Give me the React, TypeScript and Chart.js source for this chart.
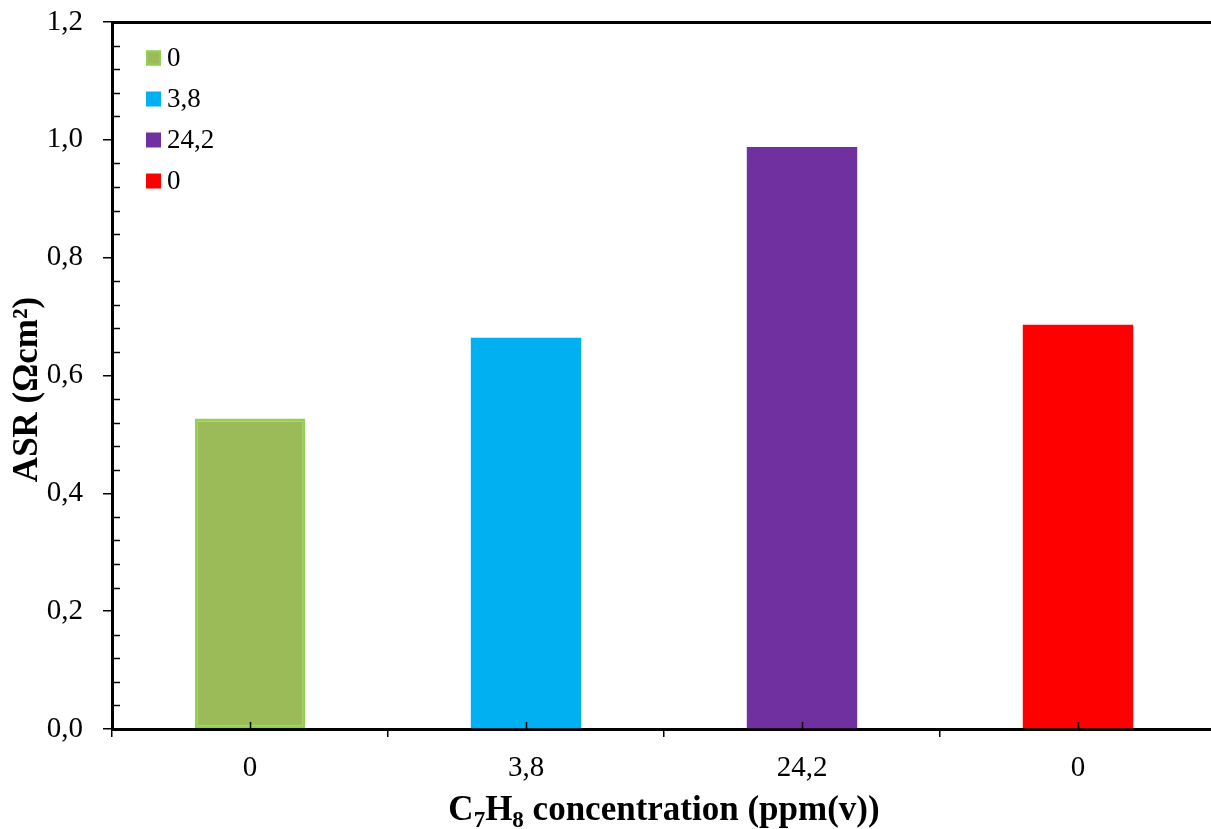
import React, { useEffect, useRef } from 'react';
import { Chart, registerables } from 'chart.js';

Chart.register(...registerables);

const categories = ['0', '3,8', '24,2', '0'];
const seriesLabels = ['0', '3,8', '24,2', '0'];
const asrValues = [0.527, 0.664, 0.988, 0.686];
const barColors = ['#9BBB59', '#00B0F0', '#7030A0', '#FF0000'];
const barBorderColors = ['#92D050', '#00B0F0', '#7030A0', '#FF0000'];
const barBorderWidths = [3, 0, 0, 0];
const yMin = 0;
const yMax = 1.2;
const yMajorStep = 0.2;
const yMinorStep = 0.04;
const yTitle = 'ASR (Ωcm²)';
const xTitleParts: [string, boolean][] = [
  ['C', false],
  ['7', true],
  ['H', false],
  ['8', true],
  [' concentration (ppm(v))', false],
];

const FONT = "'Liberation Serif', 'Times New Roman', serif";

const decorations = {
  id: 'decorations',
  afterDraw(chart: any) {
    const { ctx, chartArea, scales } = chart;
    const y = scales.y;
    const x = scales.x;
    ctx.save();
    ctx.strokeStyle = '#000';
    ctx.lineWidth = 1.5;
    // minor y ticks (inward)
    const nMinor = Math.round((yMax - yMin) / yMinorStep);
    const perMajor = Math.round(yMajorStep / yMinorStep);
    for (let k = 0; k <= nMinor; k++) {
      if (k % perMajor === 0) continue;
      const py = Math.round(y.getPixelForValue(yMin + k * yMinorStep)) + 0.5;
      ctx.beginPath();
      ctx.moveTo(chartArea.left, py);
      ctx.lineTo(chartArea.left + 8, py);
      ctx.stroke();
    }
    // inward ticks at category centers
    for (let i = 0; i < categories.length; i++) {
      const px = Math.round(x.getPixelForValue(i)) + 0.5;
      ctx.beginPath();
      ctx.moveTo(px, chartArea.bottom);
      ctx.lineTo(px, chartArea.bottom - 7);
      ctx.stroke();
    }
    // legend inside plot
    ctx.font = `27px ${FONT}`;
    ctx.textBaseline = 'middle';
    ctx.textAlign = 'left';
    chart.data.datasets.forEach((ds: any, i: number) => {
      const bx = chartArea.left + 34;
      const cy = chartArea.top + 36 + i * 41;
      ctx.fillStyle = ds.backgroundColor;
      ctx.fillRect(bx, cy - 7.5, 15, 15);
      if (ds.borderWidth) {
        ctx.strokeStyle = ds.borderColor;
        ctx.lineWidth = 2;
        ctx.strokeRect(bx + 1, cy - 6.5, 13, 13);
      }
      ctx.fillStyle = '#000';
      ctx.fillText(ds.label, bx + 21, cy + 1);
    });
    // y title
    ctx.save();
    ctx.translate(28, (chartArea.top + chartArea.bottom) / 2 + 14);
    ctx.rotate(-Math.PI / 2);
    ctx.font = `bold 35px ${FONT}`;
    ctx.textAlign = 'center';
    ctx.textBaseline = 'middle';
    ctx.fillStyle = '#000';
    ctx.fillText(yTitle, 0, 0);
    ctx.restore();
    // x title with subscripts
    const mainFont = `bold 35px ${FONT}`;
    const subFont = `bold 23px ${FONT}`;
    let total = 0;
    xTitleParts.forEach(([t, sub]) => {
      ctx.font = sub ? subFont : mainFont;
      total += ctx.measureText(t).width;
    });
    let cx = (chartArea.left + chartArea.right) / 2 - total / 2;
    const baseY = 820;
    ctx.textAlign = 'left';
    ctx.textBaseline = 'alphabetic';
    ctx.fillStyle = '#000';
    xTitleParts.forEach(([t, sub]) => {
      ctx.font = sub ? subFont : mainFont;
      ctx.fillText(t, cx, sub ? baseY + 7 : baseY);
      cx += ctx.measureText(t).width;
    });
    ctx.restore();
  },
};

export default function App() {
  const canvasRef = useRef<HTMLCanvasElement | null>(null);

  useEffect(() => {
    const canvas = canvasRef.current;
    if (!canvas) return;
    const datasets = seriesLabels.map((label, i) => ({
      label,
      data: categories.map((_, j) => (j === i ? asrValues[i] : null)),
      backgroundColor: barColors[i],
      borderColor: barBorderColors[i],
      borderWidth: barBorderWidths[i],
      borderSkipped: false as any,
      barPercentage: 0.4,
      categoryPercentage: 1,
    }));
    const chart = new Chart(canvas, {
      type: 'bar',
      data: { labels: categories, datasets },
      plugins: [decorations],
      options: {
        responsive: false,
        animation: false,
        devicePixelRatio: 1,
        layout: { padding: { left: 0, right: 9, top: 0, bottom: 0 } },
        datasets: { bar: { grouped: false } } as any,
        plugins: {
          legend: { display: false },
          tooltip: { enabled: false },
        },
        scales: {
          x: {
            type: 'category',
            position: 'bottom',
            offset: true,
            grid: {
              offset: true,
              drawOnChartArea: false,
              tickLength: 8,
              color: '#000',
              lineWidth: 1.5,
            },
            border: { display: true, color: '#000', width: 3 },
            ticks: {
              font: { family: FONT, size: 29 },
              color: '#000',
              padding: 14,
              maxRotation: 0,
              autoSkip: false,
            },
            afterFit(s: any) {
              s.height = 100;
              s.paddingLeft = 0;
              s.paddingRight = 0;
            },
          },
          xTop: {
            type: 'category',
            position: 'top',
            grid: { display: false },
            ticks: { display: false },
            border: { display: true, color: '#000', width: 3 },
            afterFit(s: any) {
              s.height = 22;
              s.paddingLeft = 0;
              s.paddingRight = 0;
            },
          },
          y: {
            min: yMin,
            max: yMax,
            ticks: {
              stepSize: yMajorStep,
              font: { family: FONT, size: 29 },
              color: '#000',
              padding: 20,
              callback: (v: any) => Number(v).toFixed(1).replace('.', ','),
            },
            grid: {
              drawOnChartArea: false,
              tickLength: 9,
              color: '#000',
              lineWidth: 1.5,
            },
            border: { display: true, color: '#000', width: 3 },
            afterFit(s: any) {
              s.width = 112;
              s.paddingTop = 0;
              s.paddingBottom = 0;
            },
          },
        } as any,
      },
    });
    return () => chart.destroy();
  }, []);

  return (
    <div
      style={{
        position: 'fixed',
        left: 0,
        top: 0,
        width: 1225,
        height: 829,
        background: '#fff',
        overflow: 'hidden',
      }}
    >
      <canvas ref={canvasRef} width={1225} height={829} style={{ display: 'block' }} />
    </div>
  );
}
